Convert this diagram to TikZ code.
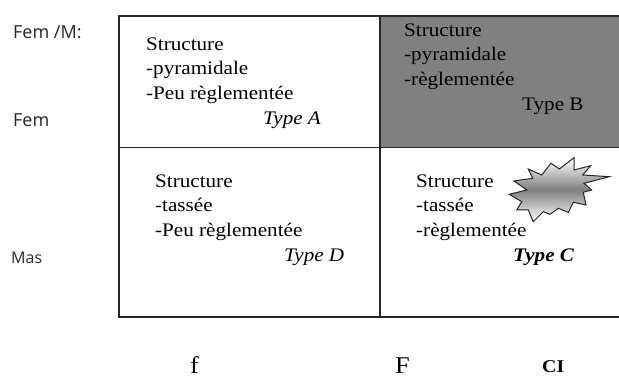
\documentclass[tikz,border=0pt]{standalone}
\usepackage{fontspec}
\setmainfont[FakeStretch=1.1]{Liberation Serif}
\setsansfont{Open Sans}
\usetikzlibrary{positioning}

\begin{document}
\begin{tikzpicture}[x=1pt, y=-1pt,
    cell/.style={anchor=north west, inner sep=0pt, align=left, font=\fontsize{19.2}{24.5}\selectfont},
    typelabel/.style={anchor=base west, inner sep=0pt, font=\fontsize{19.2}{20}\selectfont},
    axislabel/.style={anchor=base west, inner sep=0pt, font=\sffamily\fontsize{18}{20}\selectfont, text=black!85},
    bottomlabel/.style={anchor=base west, inner sep=0pt, font=\fontsize{24}{26}\selectfont},
    gridline/.style={line width=1.3pt, black!85}
]
\useasboundingbox (0,0) rectangle (619,379);

% Shaded quadrant
\fill[black!50] (380,16) rectangle (619,147);

% Grid
\draw[gridline] (619,16) -- (119,16) -- (119,317) -- (619,317);
\draw[gridline] (119,147.5) -- (619,147.5);
\draw[gridline] (380,16) -- (380,317);

% Burst
\draw[line width=1pt, black!85, top color=white, bottom color=white, middle color=black!50]
    (528.3,169) -- (541.7,175) -- (551,163.3) -- (559.3,169) -- (574,157.7) -- (574,170) -- (590.7,165.7)
    -- (582.7,175) -- (609.3,176.7) -- (584,183.3) -- (591.7,190) -- (583.3,192.3) -- (586,205)
    -- (573.3,202.3) -- (568.3,212.3) -- (558.3,208.3) -- (550,214.3) -- (543.3,211.7) -- (533.3,221.7)
    -- (528.3,210) -- (516.7,210) -- (521.7,201.7) -- (509.3,194.3) -- (526.7,190) -- (514,181) -- (532.7,178.3)
    -- cycle;

% Quadrant texts
\node[cell] (cellA) at (146,37.5) {Structure\\-pyramidale\\-Peu règlementée};
\node[typelabel] (typeA) at (263,125) {\itshape Type A};

\node[cell] (cellB) at (404,23.5) {Structure\\-pyramidale\\-règlementée};
\node[typelabel] (typeB) at (522,111) {Type B};

\node[cell] (cellD) at (155,174.5) {Structure\\-tassée\\-Peu règlementée};
\node[typelabel] (typeD) at (284,262) {\itshape Type D};

\node[cell] (cellC) at (416,174.5) {Structure\\-tassée\\-règlementée};
\node[typelabel] (typeC) at (513,262) {\bfseries\itshape Type C};

% Left labels
\node[axislabel] (femM) at (13,39) {Fem /M:};
\node[axislabel] (fem) at (13,127) {Fem};
\node[axislabel, font=\sffamily\fontsize{16}{18}\selectfont] (mas) at (11,264) {Mas};

% Bottom labels
\node[bottomlabel] (low) at (190,373.5) {f};
\node[bottomlabel] (high) at (395,373.5) {F};
\node[anchor=base west, inner sep=0pt, font=\bfseries\fontsize{18}{20}\selectfont] (ci) at (542,373) {CI};
\end{tikzpicture}
\end{document}
